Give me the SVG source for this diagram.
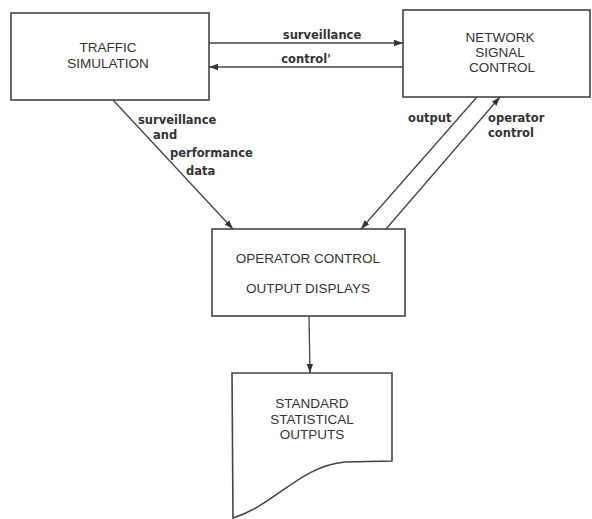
<svg xmlns="http://www.w3.org/2000/svg" width="592" height="519" viewBox="0 0 592 519">
<defs>
<marker id="ah" viewBox="0 0 10 10" refX="10" refY="5" markerWidth="9" markerHeight="9" markerUnits="userSpaceOnUse" orient="auto">
<path d="M0,1.5 L10,5 L0,8.5 Z" fill="#333"/>
</marker>
</defs>
<style>
.box{fill:#fff;stroke:#444;stroke-width:1.6}
.cap{font-family:"Liberation Sans",Arial,sans-serif;font-size:13.5px;fill:#333;text-anchor:middle}
.lbl{font-family:"DejaVu Sans",sans-serif;font-size:11.5px;fill:#333;font-weight:bold}
.ln{stroke:#444;stroke-width:1.3;fill:none}
</style>
<rect width="592" height="519" fill="#fff"/>
<g id="traffic">
<rect class="box" x="11" y="13" width="198" height="87"/>
<text class="cap" x="108" y="52">TRAFFIC</text>
<text class="cap" x="108" y="68">SIMULATION</text>
</g>
<g id="network">
<rect class="box" x="403" y="10" width="187" height="87"/>
<text class="cap" x="500" y="42">NETWORK</text>
<text class="cap" x="500" y="57">SIGNAL</text>
<text class="cap" x="502" y="72">CONTROL</text>
</g>
<g id="operator">
<rect class="box" x="212" y="229" width="193" height="87"/>
<text class="cap" x="308" y="263">OPERATOR CONTROL</text>
<text class="cap" x="308" y="293">OUTPUT DISPLAYS</text>
</g>
<g id="standard">
<path class="box" d="M232,373 L392,373 L392,461 L345,462 C300,466 275,505 233,518 Z"/>
<text class="cap" x="312" y="408">STANDARD</text>
<text class="cap" x="312" y="424">STATISTICAL</text>
<text class="cap" x="312" y="439">OUTPUTS</text>
</g>
<g id="connectors">
<line class="ln" x1="209" y1="43" x2="403" y2="43" marker-end="url(#ah)"/>
<line class="ln" x1="403" y1="67" x2="209" y2="67" marker-end="url(#ah)"/>
<line class="ln" x1="113" y1="100" x2="233" y2="229" marker-end="url(#ah)"/>
<line class="ln" x1="477" y1="97" x2="361" y2="229" marker-end="url(#ah)"/>
<line class="ln" x1="386" y1="229" x2="500" y2="97" marker-end="url(#ah)"/>
<line class="ln" x1="309" y1="316" x2="310" y2="373" marker-end="url(#ah)"/>
<text class="lbl" x="322" y="39" text-anchor="middle">surveillance</text>
<text class="lbl" x="306" y="63" text-anchor="middle">control'</text>
<text class="lbl" x="138" y="124">surveillance</text>
<text class="lbl" x="153" y="139">and</text>
<text class="lbl" x="170" y="157">performance</text>
<text class="lbl" x="186" y="175">data</text>
<text class="lbl" x="408" y="122">output</text>
<text class="lbl" x="488" y="122">operator</text>
<text class="lbl" x="488" y="137">control</text>
</g>
</svg>
